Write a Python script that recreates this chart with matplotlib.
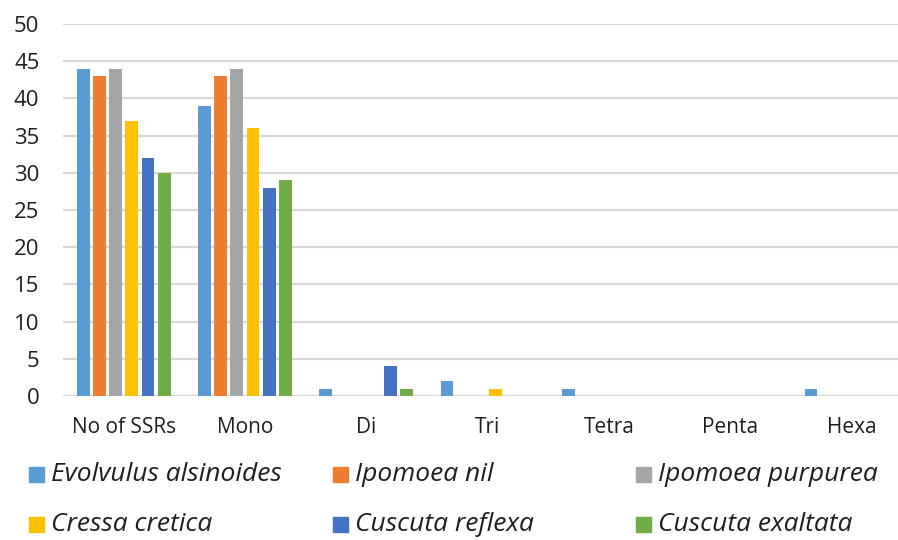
import matplotlib
matplotlib.use("Agg")
import matplotlib.pyplot as plt
import numpy as np
from matplotlib.patches import Rectangle

categories = ["No of SSRs", "Mono", "Di", "Tri", "Tetra", "Penta", "Hexa"]
species = ["Evolvulus alsinoides", "Ipomoea nil", "Ipomoea purpurea",
           "Cressa cretica", "Cuscuta reflexa", "Cuscuta exaltata"]

evolvulus_alsinoides = [44, 39, 1, 2, 1, 0, 1]
ipomoea_nil = [43, 43, 0, 0, 0, 0, 0]
ipomoea_purpurea = [44, 44, 0, 0, 0, 0, 0]
cressa_cretica = [37, 36, 0, 1, 0, 0, 0]
cuscuta_reflexa = [32, 28, 4, 0, 0, 0, 0]
cuscuta_exaltata = [30, 29, 1, 0, 0, 0, 0]

series = [evolvulus_alsinoides, ipomoea_nil, ipomoea_purpurea,
          cressa_cretica, cuscuta_reflexa, cuscuta_exaltata]
colors = ["#5B9BD5", "#ED7D31", "#A5A5A5", "#FFC000", "#4472C4", "#70AD47"]

W, H = 898, 540
text_color = "#1F1F1F"
grid_color = "#D9D9D9"

fig = plt.figure(figsize=(W / 100, H / 100), dpi=100)
fig.patch.set_facecolor("white")

# plot area runs past the right edge of the figure
left_px, top_px, bottom_px = 63, 24, 396
cat_px = 121.3
ax = fig.add_axes([left_px / W, 1 - bottom_px / H,
                   (W - left_px) / W, (bottom_px - top_px) / H])

x = np.arange(len(categories))
step = 0.1335
width = 0.105
for i, (vals, c) in enumerate(zip(series, colors)):
    ax.bar(x + (i - 2.5) * step, vals, width=width, color=c, zorder=3)

ax.set_xlim(-0.5, -0.5 + (W - left_px) / cat_px)
ax.set_ylim(0, 50)
ax.set_yticks(np.arange(0, 51, 5))
ax.yaxis.grid(True, color=grid_color, linewidth=1.6, zorder=0)
ax.set_axisbelow(True)
for s in ["top", "right", "left", "bottom"]:
    ax.spines[s].set_visible(False)
ax.axhline(0, color=grid_color, linewidth=1.6, zorder=1)

ax.set_xticks(x)
ax.set_xticklabels(categories, fontsize=15, family="Open Sans", color=text_color)
for lab in ax.get_yticklabels():
    lab.set_fontsize(16)
    lab.set_family("Open Sans")
    lab.set_color(text_color)
ax.tick_params(axis="both", length=0)
ax.tick_params(axis="x", pad=15)
ax.tick_params(axis="y", pad=17)

# legend laid out in three columns, two rows
col_px = [29, 333, 636]
row_px = [467, 517]
sq = 15
for i, (name, c) in enumerate(zip(species, colors)):
    cx = col_px[i % 3]
    ry = row_px[i // 3]
    fig.patches.append(Rectangle((cx / W, 1 - (ry + sq) / H), sq / W, sq / H,
                                 transform=fig.transFigure, color=c))
    fig.text((cx + sq + 7) / W, 1 - (ry + sq * 0.5) / H, name,
             fontsize=19, style="italic", family="Open Sans",
             color=text_color, va="center", ha="left")

fig.savefig("out.png", dpi=100)
